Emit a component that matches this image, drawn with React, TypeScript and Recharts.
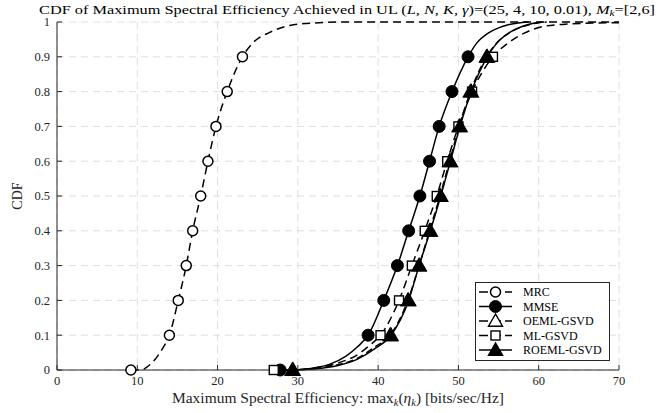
import React from 'react';
import { ComposedChart, Line, Scatter, XAxis, YAxis, CartesianGrid } from 'recharts';

// CDF levels where markers are drawn
const markLevels = [0, 0.1, 0.2, 0.3, 0.4, 0.5, 0.6, 0.7, 0.8, 0.9];

// x position of each marker (bits/sec/Hz)
const mrcMarks = [9.2, 14.0, 15.1, 16.1, 16.9, 17.9, 18.8, 19.8, 21.2, 23.1];
const mmseMarks = [27.8, 38.75, 40.7, 42.4, 43.8, 45.2, 46.4, 47.6, 49.2, 51.2];
const oemlMarks = [29.3, 41.5, 43.7, 45.1, 46.4, 47.7, 48.9, 50.1, 51.5, 53.5];
const mlMarks = [27.0, 40.3, 42.6, 44.2, 45.8, 47.3, 48.6, 50.0, 51.7, 54.3];
const roemlMarks = [29.4, 41.6, 43.8, 45.1, 46.5, 47.8, 49.0, 50.2, 51.6, 53.6];

// full curves [x, cdf]
const mrcCurve: [number, number][] = [
  [9.2, 0], [10.5, 0], [11.3, 0.01], [12.2, 0.03], [13.1, 0.06], [14.0, 0.1], [15.1, 0.2], [16.1, 0.3],
  [16.9, 0.4], [17.9, 0.5], [18.8, 0.6], [19.8, 0.7], [21.2, 0.8], [23.1, 0.9], [24.4, 0.94], [26.5, 0.97],
  [29, 0.99], [32, 0.997], [36, 1], [70, 1],
];
const mmseCurve: [number, number][] = [
  [27.8, 0], [30, 0.001], [32, 0.006], [34, 0.017], [36, 0.04], [37.5, 0.068], [38.75, 0.1], [40.7, 0.2],
  [42.4, 0.3], [43.8, 0.4], [45.2, 0.5], [46.4, 0.6], [47.6, 0.7], [49.2, 0.8], [51.2, 0.9], [52.3, 0.94],
  [53.7, 0.968], [55, 0.983], [56.2, 0.992], [58.7, 1],
];
const oemlCurve: [number, number][] = [
  [29.3, 0], [32, 0.004], [35, 0.015], [37.5, 0.035], [39.5, 0.065], [41.5, 0.1], [43.7, 0.2], [45.1, 0.3],
  [46.4, 0.4], [47.7, 0.5], [48.9, 0.6], [50.1, 0.7], [51.5, 0.8], [53.5, 0.9], [55, 0.945], [56.8, 0.975],
  [58.5, 0.99], [60, 0.998], [61, 1],
];
const mlCurve: [number, number][] = [
  [27.0, 0], [30, 0.001], [32, 0.006], [35, 0.02], [37.5, 0.045], [39, 0.072], [40.3, 0.1], [42.6, 0.2],
  [44.2, 0.3], [45.8, 0.4], [47.3, 0.5], [48.6, 0.6], [50.0, 0.7], [51.7, 0.8], [54.3, 0.9], [56.2, 0.94],
  [58.2, 0.968], [60.7, 0.988], [63.6, 0.994], [66.9, 0.997], [70, 0.998],
];
const roemlCurve: [number, number][] = [
  [29.4, 0], [32, 0.003], [35, 0.013], [37.5, 0.032], [39.5, 0.06], [41.6, 0.1], [43.8, 0.2], [45.1, 0.3],
  [46.5, 0.4], [47.8, 0.5], [49.0, 0.6], [50.2, 0.7], [51.6, 0.8], [53.6, 0.9], [54.8, 0.94], [56.6, 0.973],
  [58, 0.988], [59.5, 0.997], [60.5, 1],
];

const xTicks = [0, 10, 20, 30, 40, 50, 60, 70];
const yTicks = [0, 0.1, 0.2, 0.3, 0.4, 0.5, 0.6, 0.7, 0.8, 0.9, 1];

type Kind = 'circleOpen' | 'circleFilled' | 'triOpen' | 'square' | 'triFilled';

const series: { name: string; curve: [number, number][]; marks: number[]; kind: Kind; dash?: string }[] = [
  { name: 'MRC', curve: mrcCurve, marks: mrcMarks, kind: 'circleOpen', dash: '8 5' },
  { name: 'MMSE', curve: mmseCurve, marks: mmseMarks, kind: 'circleFilled' },
  { name: 'OEML-GSVD', curve: oemlCurve, marks: oemlMarks, kind: 'triOpen', dash: '7 4' },
  { name: 'ML-GSVD', curve: mlCurve, marks: mlMarks, kind: 'square', dash: '8 5' },
  { name: 'ROEML-GSVD', curve: roemlCurve, marks: roemlMarks, kind: 'triFilled' },
];

const FONT = '"Liberation Serif", "DejaVu Serif", serif';
const INK = '#262626';

const marker = (kind: Kind, cx: number, cy: number) => {
  switch (kind) {
    case 'circleOpen':
      return <circle cx={cx} cy={cy} r={5} fill="#fff" stroke="#000" strokeWidth={1.5} />;
    case 'circleFilled':
      return <circle cx={cx} cy={cy} r={6} fill="#000" stroke="#000" strokeWidth={1} />;
    case 'square':
      return <rect x={cx - 4.5} y={cy - 4.5} width={9} height={9} fill="#fff" stroke="#000" strokeWidth={1.4} />;
    case 'triOpen':
    case 'triFilled': {
      const s = 7;
      const pts = `${cx},${cy - s} ${cx - s},${cy + s * 0.75} ${cx + s},${cy + s * 0.75}`;
      return <polygon points={pts} fill={kind === 'triFilled' ? '#000' : '#fff'} stroke="#000" strokeWidth={1.4} />;
    }
  }
};

const fmtY = (v: number) => (v === 0 || v === 1 ? String(v) : v.toFixed(1));

export default function App() {
  return (
    <div style={{ position: 'absolute', left: 0, top: 0, width: 664, height: 413, background: '#fff' }}>
      <ComposedChart width={664} height={413} margin={{ top: 22, right: 45, bottom: 0, left: 0 }}>
        <CartesianGrid stroke="#dedede" strokeDasharray="7 5" />
        <XAxis
          type="number"
          dataKey="x"
          domain={[0, 70]}
          ticks={xTicks}
          allowDataOverflow
          height={43}
          tickSize={-5}
          tickMargin={11}
          stroke={INK}
          tick={{ fill: INK, fontSize: 12.5, fontFamily: FONT }}
        />
        <XAxis
          xAxisId="top"
          orientation="top"
          type="number"
          domain={[0, 70]}
          ticks={xTicks}
          height={0}
          tickSize={-5}
          tickFormatter={() => ''}
          stroke={INK}
        />
        <YAxis
          type="number"
          dataKey="y"
          domain={[0, 1]}
          ticks={yTicks}
          width={57}
          tickSize={-5}
          tickMargin={12}
          tickFormatter={fmtY}
          stroke={INK}
          tick={{ fill: INK, fontSize: 12.5, fontFamily: FONT }}
        />
        <YAxis
          yAxisId="right"
          orientation="right"
          type="number"
          domain={[0, 1]}
          ticks={yTicks}
          width={0}
          tickSize={-5}
          tickFormatter={() => ''}
          stroke={INK}
        />
        {series.map((s) => (
          <Line
            key={s.name + '-line'}
            data={s.curve.map(([x, y]) => ({ x, y }))}
            dataKey="y"
            type="monotone"
            stroke="#000"
            strokeWidth={1.5}
            strokeDasharray={s.dash}
            dot={false}
            activeDot={false}
            isAnimationActive={false}
          />
        ))}
        {series.map((s) => (
          <Scatter
            key={s.name + '-marks'}
            data={s.marks.map((x, i) => ({ x, y: markLevels[i] }))}
            dataKey="y"
            shape={(p: any) => marker(s.kind, p.cx, p.cy)}
            isAnimationActive={false}
          />
        ))}
      </ComposedChart>
      <svg width={664} height={413} style={{ position: 'absolute', left: 0, top: 0, pointerEvents: 'none' }}>
        <text
          x={39}
          y={13.5}
          textLength={616}
          lengthAdjust="spacingAndGlyphs"
          fontFamily={FONT}
          fontSize={13}
          fill="#000"
        >
          CDF of Maximum Spectral Efficiency Achieved in UL (<tspan fontStyle="italic">L</tspan>,{' '}
          <tspan fontStyle="italic">N</tspan>, <tspan fontStyle="italic">K</tspan>,{' '}
          <tspan fontStyle="italic">γ</tspan>)=(25, 4, 10, 0.01), <tspan fontStyle="italic">M</tspan>
          <tspan fontSize={9} fontStyle="italic" dy={2.5}>k</tspan>
          <tspan dy={-2.5}>=[2,6]</tspan>
        </text>
        <text
          x={172}
          y={403}
          textLength={332}
          lengthAdjust="spacingAndGlyphs"
          fontFamily={FONT}
          fontSize={14}
          fill={INK}
        >
          Maximum Spectral Efficiency: max<tspan fontSize={9.5} fontStyle="italic" dy={3}>k</tspan>
          <tspan dy={-3}>(</tspan>
          <tspan fontStyle="italic">η</tspan>
          <tspan fontSize={9.5} fontStyle="italic" dy={3}>k</tspan>
          <tspan dy={-3}>) [bits/sec/Hz]</tspan>
        </text>
        <text
          x={22}
          y={196}
          textAnchor="middle"
          transform="rotate(-90 22 196)"
          fontFamily={FONT}
          fontSize={14}
          fill={INK}
        >
          CDF
        </text>
        <g>
          <rect x={475.5} y={282.5} width={134} height={78} fill="#fff" stroke={INK} strokeWidth={1} />
          {series.map((s, i) => {
            const y = 292 + i * 14.5;
            return (
              <g key={s.name}>
                <line x1={479} x2={512} y1={y} y2={y} stroke="#000" strokeWidth={1.5} strokeDasharray={s.dash ? '9 4' : undefined} />
                {marker(s.kind, 495.5, y)}
                <text x={523} y={y + 4} fontFamily={FONT} fontSize={12} fill="#000">
                  {s.name}
                </text>
              </g>
            );
          })}
        </g>
      </svg>
    </div>
  );
}
